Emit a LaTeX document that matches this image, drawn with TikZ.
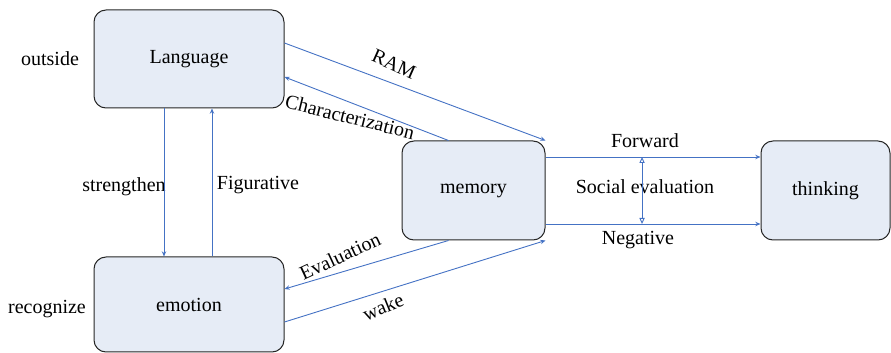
\documentclass[tikz,border=0pt]{standalone}
\usepackage{fontspec}
\setmainfont{Liberation Serif}
\newfontfamily\labelfont{Liberation Serif}
\usepackage{xcolor}
\usepackage{tikz}
\usetikzlibrary{arrows.meta}
\definecolor{boxfill}{HTML}{E6ECF6}
\definecolor{linkblue}{HTML}{4472C4}

\begin{document}
\begin{tikzpicture}[x=0.5pt, y=-0.5pt,
        box/.style={draw=black!85, fill=boxfill, rounded corners=6pt, line width=0.5pt, inner sep=0pt, font=\labelfont\fontsize{10}{12}\selectfont},
        link/.style={draw=linkblue, line width=0.45pt, -{Stealth[length=2.6pt,width=2.2pt]}},
        twoway/.style={draw=linkblue, line width=0.45pt, {Triangle[open,length=3pt,width=2.6pt]}-{Triangle[open,length=3pt,width=2.6pt]}},
        lbl/.style={inner sep=0pt, font=\labelfont\fontsize{10}{12}\selectfont}]
        \useasboundingbox (0,0) rectangle (891,353);
        \node[box, minimum width=95pt, minimum height=49pt] (Language) at (189,59) {Language};
        \node[box, minimum width=95pt, minimum height=47.5pt] (emotion) at (189,304.5) {emotion};
        \node[box, minimum width=71.5pt, minimum height=49.5pt] (memory) at (473.5,190.5) {memory};
        \node[box, minimum width=64.5pt, minimum height=49.5pt] (thinking) at (825.5,190.5) {thinking};
        
        \node[lbl] (outside) at (50,59) {outside};
        \node[lbl] (recognize) at (47,309) {recognize};
        \node[lbl] (strengthen) at (124,187) {strengthen};
        \node[lbl] (Figurative) at (258,185) {Figurative};
        \node[lbl, rotate=-24] (RAM) at (394,64) {RAM};
        \node[lbl, rotate=-14] (Characterization) at (350,117) {Characterization};
        \node[lbl, rotate=25] (Evaluation) at (340,256) {Evaluation};
        \node[lbl, rotate=22] (wake) at (383,307) {wake};
        \node[lbl] (Forward) at (645,141) {Forward};
        \node[lbl] (Social-evaluation) at (645,187) {Social evaluation};
        \node[lbl] (Negative) at (638,240) {Negative};
        
        \draw[link] ([yshift=8pt]Language.east) -- (memory.north east);
        \draw[link] ([xshift=-12.5pt]memory.north) -- ([yshift=-9pt]Language.east);
        \draw[link] ([xshift=-12.5pt]Language.south) -- ([xshift=-12.5pt]emotion.north);
        \draw[link] ([xshift=11.5pt]emotion.north) -- ([xshift=11.5pt]Language.south);
        \draw[link] ([xshift=-12.5pt]memory.south) -- ([yshift=7.75pt]emotion.east);
        \draw[link] ([yshift=-8.75pt]emotion.east) -- (memory.south east);
        \draw[link] ([yshift=16.75pt]memory.east) -- coordinate[pos=0.449] (fwd) ([yshift=16.75pt]thinking.west);
        \draw[link] ([yshift=-16.75pt]memory.east) -- coordinate[pos=0.449] (neg) ([yshift=-16.75pt]thinking.west);
        \draw[twoway] (fwd) -- (neg);
    \end{tikzpicture}
\end{document}
